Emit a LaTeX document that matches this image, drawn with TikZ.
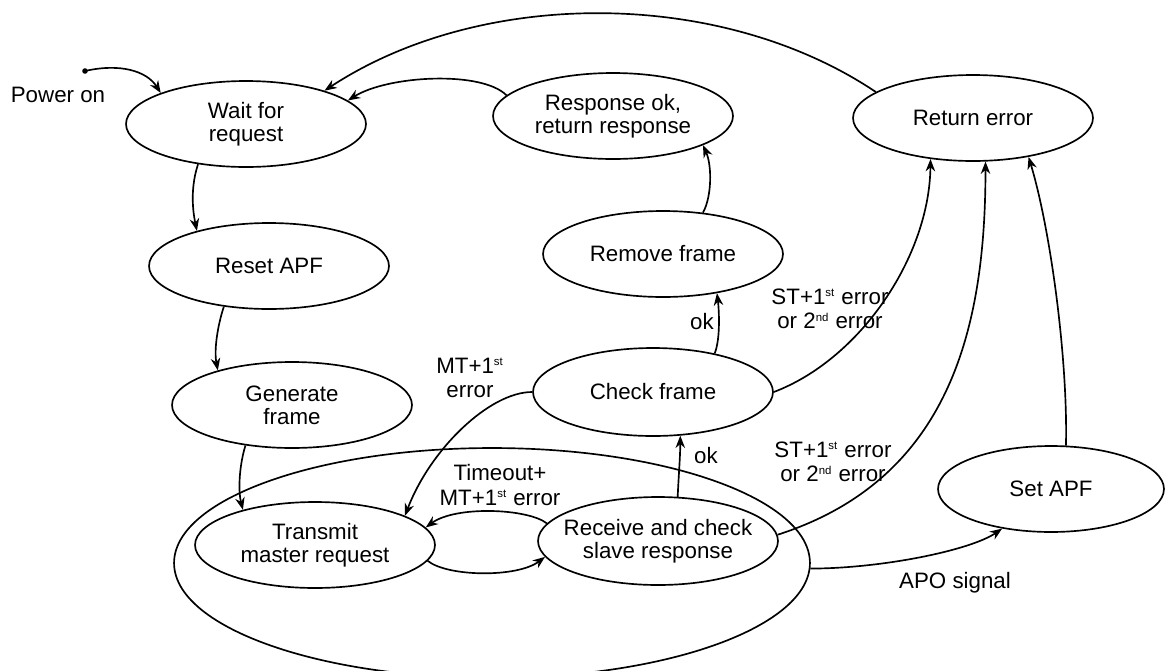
\documentclass[tikz,border=0pt]{standalone}
\usepackage{fontspec}
\setmainfont{Liberation Sans}
\usetikzlibrary{shapes.geometric,arrows.meta}
\newcommand\supx[1]{\textsuperscript{\fontsize{6.5pt}{6.5pt}\selectfont #1}}
\begin{document}
\begin{tikzpicture}[x=0.02cm,y=-0.02cm,
  st/.style={draw,ellipse,line width=0.95pt,inner sep=-14pt,align=center,
    minimum width=4.8cm,minimum height=1.72cm,
    font=\fontsize{12.7pt}{13pt}\selectfont},
  lbl/.style={align=center,inner sep=0pt,font=\fontsize{12.7pt}{14pt}\selectfont},
  arr/.style={line width=0.95pt,-{Stealth[length=7pt,width=5.4pt]}}]
\useasboundingbox (0,0) rectangle (1167,670);
% states
\node[draw,ellipse,line width=0.95pt,inner sep=0pt,minimum width=12.72cm,minimum height=4.6cm] (big) at (492,563) {};
\node[st] (wait) at (246,124) {Wait for\\request};
\node[st] (resp) at (613,116) {Response ok,\\return response};
\node[st] (ret) at (973,118) {Return error};
\node[st] (reset) at (269,266) {Reset APF};
\node[st] (remove) at (663,254) {Remove frame};
\node[st] (gen) at (292,405) {Generate\\frame};
\node[st,minimum height=1.76cm] (check) at (653,392) {Check frame};
\node[st] (trans) at (315,545) {Transmit\\master request};
\node[st,minimum height=1.76cm] (recv) at (658,541) {Receive and check\\slave response};
\node[st,minimum width=4.52cm] (setapf) at (1051,489) {Set APF};
% power on
\coordinate (pw) at (85,71);
\fill (pw) circle[radius=2.8];
\draw[arr] (pw) .. controls +(35,-8) and +(-14,-22) .. (wait.160);
% connectors
\draw[arr] (resp.169) .. controls +(-25,-25) and +(40,-25) .. (wait.13);
\draw[arr] (ret.165) .. controls +(-155,-104) and +(157,-103) .. (wait.23);
\draw[arr] (wait.220) .. controls +(-7,21) and +(-5,-24) .. (reset.154);
\draw[arr] (reset.222) .. controls +(-6,18) and +(-4,-21) .. (gen.155);
\draw[arr] (gen.221) .. controls +(-6,19) and +(-5,-20) .. (trans.154);
\draw[arr] (remove.46) .. controls +(9,-16) and +(9,20) .. (resp.-18);
\draw[arr] (check.32) .. controls +(6,-15) and +(2,16) .. (remove.-36);
\draw[arr] (check.0) .. controls +(87,-33) and +(-1,97) .. (ret.224);
\draw[arr] (recv.66) .. controls +(1,-22) and +(0,20) .. (check.-58);
\draw[arr] (check.180) .. controls +(-43,0) and +(25,-66) .. (trans.18);
\draw[arr] (recv.171) .. controls +(-19,-15) and +(30,-22) .. (trans.9);
\draw[arr] (trans.-8) .. controls +(20,16) and +(-28,21) .. (recv.188);
\draw[arr] (recv.3) .. controls +(171,-55) and +(0,169) .. (ret.-74);
\draw[arr] (big.-1.6) .. controls +(70,0) and +(-32,22) .. (setapf.219);
\draw[arr] (setapf.71) .. controls +(2,-86) and +(22,73) .. (ret.-35);
% labels
\node[lbl] (lpow) at (58,95) {Power on};
\node[lbl] (lok1) at (702,322) {ok};
\node[lbl] (lok2) at (706,456) {ok};
\node[lbl] (lst1) at (830,309) {ST+1\supx{st} error\\or 2\supx{nd} error};
\node[lbl] (lst2) at (833,462) {ST+1\supx{st} error\\or 2\supx{nd} error};
\node[lbl] (lmt) at (470,378) {MT+1\supx{st}\\error};
\node[lbl] (lto) at (500,485) {Timeout+\\MT+1\supx{st} error};
\node[lbl] (lapo) at (955,583) {APO signal};
\end{tikzpicture}
\end{document}
